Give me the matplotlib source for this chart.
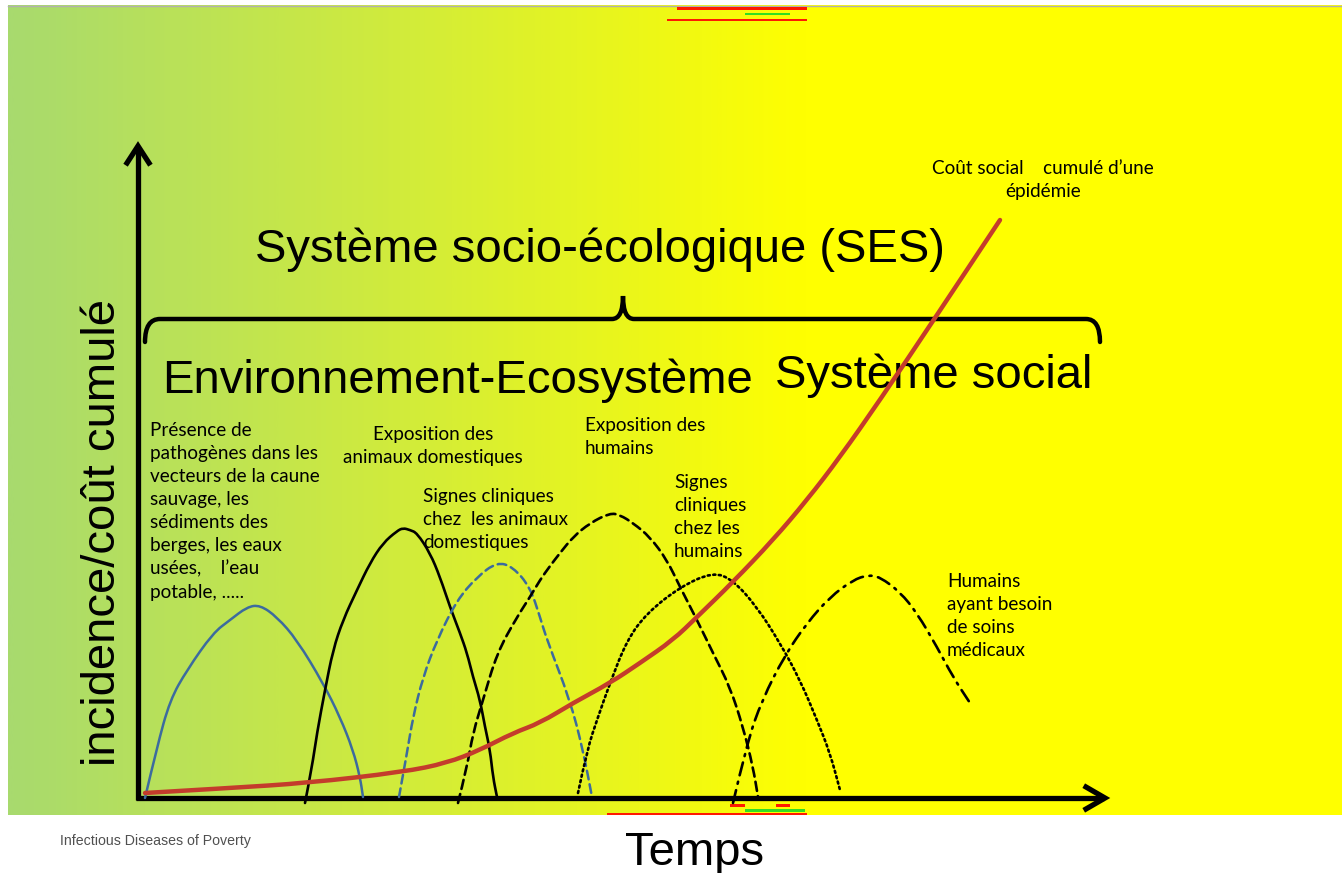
import numpy as np
import matplotlib
matplotlib.use('Agg')
import matplotlib.pyplot as plt
from matplotlib.path import Path
from matplotlib.patches import PathPatch, Rectangle
from matplotlib.colors import LinearSegmentedColormap

# ---- data: time (0..969) vs incidence / cumulated cost (0..653)
blue_t = [7, 19, 32, 49, 75, 92, 109, 122, 139, 159, 185, 202, 215, 222, 225]
blue_v = [0, 51, 98, 128, 165, 178, 191, 193, 181, 158, 115, 81, 48, 21, 1]

anim_exp_t = [167, 174, 179, 187, 195, 205, 219, 232, 245, 259, 265, 272, 279, 292,
              302, 312, 322, 329, 335, 342, 347, 352, 355, 359]
anim_exp_v = [-5, 31, 65, 108, 148, 178, 208, 235, 255, 267, 270, 268, 265, 245,
              221, 191, 165, 145, 121, 98, 71, 48, 21, 1]

anim_sign_t = [261, 269, 275, 285, 299, 319, 339, 359, 375, 392, 402, 409, 432, 445, 454]
anim_sign_v = [1, 45, 81, 121, 158, 198, 221, 236, 231, 211, 181, 158, 98, 48, 1]

hum_exp_t = [320, 329, 335, 345, 359, 379, 392, 402, 412, 422, 435, 452, 472, 482,
             495, 512, 529, 542, 559, 575, 592, 605, 615, 620]
hum_exp_v = [-5, 31, 65, 98, 145, 181, 201, 218, 232, 245, 261, 275, 285, 283,
             275, 261, 238, 211, 178, 145, 111, 71, 31, 1]

hum_sign_t = [440, 449, 460, 472, 489, 509, 542, 575, 595, 619, 642, 662, 679, 692, 702]
hum_sign_v = [5, 48, 81, 115, 158, 185, 211, 226, 218, 191, 155, 118, 78, 45, 8]

care_t = [595, 609, 624, 647, 669, 692, 715, 730, 742, 762, 779, 799, 815, 832]
care_v = [-5, 55, 98, 143, 175, 201, 218, 223, 221, 206, 185, 151, 121, 95]

cost_t = [7, 92, 169, 265, 309, 342, 375, 402, 435, 472, 502, 535, 559, 595, 635,
          669, 702, 742, 797, 862]
cost_v = [5, 10, 15, 26, 35, 48, 65, 75, 95, 115, 135, 158, 181, 216, 258,
          298, 341, 398, 480, 578]


def smooth_path(t, v):
    # quadratic pieces through the midpoints, read points used as control points
    pts = list(zip(t, v))
    verts = [pts[0]]
    codes = [Path.MOVETO]
    for i in range(1, len(pts) - 1):
        mid = ((pts[i][0] + pts[i + 1][0]) / 2, (pts[i][1] + pts[i + 1][1]) / 2)
        verts += [pts[i], mid]
        codes += [Path.CURVE3, Path.CURVE3]
    verts.append(pts[-1])
    codes.append(Path.LINETO)
    return Path(verts, codes)


W, H = 1342, 873
fig = plt.figure(figsize=(W / 100, H / 100), dpi=100)

# background axes in pixel units
bg = fig.add_axes([0, 0, 1, 1])
bg.set_xlim(0, W)
bg.set_ylim(H, 0)
bg.axis('off')

cmap = LinearSegmentedColormap.from_list(
    'bg', [(0.0, '#a8da6e'), (0.30, '#d2ec3a'), (0.60, '#ffff00'), (1.0, '#ffff00')])
grad = np.linspace(0, 1, 800)[None, :]
bg.imshow(grad, cmap=cmap, aspect='auto', extent=(8, W, 815, 5), zorder=0)
bg.plot([8, W], [5.5, 5.5], color='#b0b0b0', lw=1, zorder=1)

# scan artefacts at the top and bottom edges
for x0, y0, w, h, c in [(677, 7, 130, 3, '#ff1a00'), (667, 19, 140, 2, '#ff1a00'),
                        (745, 13, 45, 2, '#33dd22'), (730, 804, 15, 3, '#ff1a00'),
                        (776, 804, 14, 3, '#ff1a00'), (745, 809, 60, 3, '#33dd22'),
                        (607, 813, 200, 2, '#ff1a00')]:
    bg.add_patch(Rectangle((x0, y0), w, h, color=c, lw=0, zorder=1))

# axes arrows
bg.plot([138, 138], [800, 148], color='black', lw=3.8, solid_capstyle='butt', zorder=5)
bg.plot([136, 1104], [798, 798], color='black', lw=3.8, solid_capstyle='butt', zorder=5)
bg.plot([127, 138, 149], [163, 146, 163], color='black', lw=3.8,
        solid_joinstyle='miter', zorder=5)
bg.plot([1086, 1105, 1086], [787, 798, 809], color='black', lw=3.8,
        solid_joinstyle='miter', zorder=5)

# curly brace
verts = [(145, 342), (145, 319), (160, 319), (612, 319), (623, 319), (623, 296),
         (623, 319), (634, 319), (1086, 319), (1100, 319), (1100, 342)]
codes = [Path.MOVETO, Path.CURVE3, Path.CURVE3, Path.LINETO, Path.CURVE3, Path.CURVE3,
         Path.CURVE3, Path.CURVE3, Path.LINETO, Path.CURVE3, Path.CURVE3]
bg.add_patch(PathPatch(Path(verts, codes), fill=False, lw=3.2, ec='black',
                       capstyle='round', zorder=5))

# curves axes: 1 data unit = 1 pixel
ax = fig.add_axes([138 / W, 75 / H, 969 / W, 653 / H])
ax.set_xlim(0, 969)
ax.set_ylim(0, 653)
ax.axis('off')
ax.patch.set_alpha(0)

curves = [
    (blue_t, blue_v, '#3c6b9e', 1.8, '-'),
    (anim_exp_t, anim_exp_v, 'black', 1.9, '-'),
    (anim_sign_t, anim_sign_v, '#3c6b9e', 1.8, (0, (3.5, 2))),
    (hum_exp_t, hum_exp_v, 'black', 1.9, (0, (3.5, 2))),
    (hum_sign_t, hum_sign_v, 'black', 1.9, (0, (0.8, 1.3))),
    (care_t, care_v, 'black', 1.9, (0, (5, 2.5, 0.8, 2.5))),
    (cost_t, cost_v, '#c43c2c', 3.2, '-'),
]
for t, v, col, lw, ls in curves:
    ax.add_patch(PathPatch(smooth_path(t, v), fill=False, ec=col, lw=lw, ls=ls,
                           capstyle='round', clip_on=False, zorder=4))

# texts
big = dict(family=['Liberation Sans', 'DejaVu Sans'], fontsize=34, color='black', zorder=6)
bg.text(600, 262, 'Système socio-écologique (SES)', ha='center', va='baseline', **big)
bg.text(162, 393, 'Environnement-Ecosystème', ha='left', va='baseline', **big)
bg.text(775, 388, 'Système social', ha='left', va='baseline', **big)
bg.text(695, 865, 'Temps', ha='center', va='baseline', **big)
bg.text(103, 532, 'incidence/coût cumulé', ha='center', va='center', rotation=90, **big)

sm = dict(family=['Lato', 'DejaVu Sans'], fontsize=13.6, color='black', va='top',
          linespacing=1.43, zorder=6)
bg.text(150, 422, 'Présence de\npathogènes dans les\nvecteurs de la caune\nsauvage, les\n'
        'sédiments des\nberges, les eaux\nusées,    l’eau\npotable, .....', ha='left', **sm)
bg.text(433, 426, 'Exposition des\nanimaux domestiques', ha='center',
        multialignment='center', **sm)
bg.text(423, 488, 'Signes cliniques\nchez  les animaux\ndomestiques', ha='left', **sm)
bg.text(585, 417, 'Exposition des\nhumains', ha='left', **sm)
bg.text(674, 474, 'Signes\ncliniques\nchez les\nhumains', ha='left', **sm)
bg.text(947, 573, 'Humains\nayant besoin\nde soins\nmédicaux', ha='left', **sm)
bg.text(1043, 160, 'Coût social    cumulé d’une\népidémie', ha='center',
        multialignment='center', **sm)

bg.text(60, 841, 'Infectious Diseases of Poverty', ha='left', va='center',
        family=['Liberation Sans', 'DejaVu Sans'], fontsize=10.2, color='#505050')

fig.savefig('out.png', dpi=100)
